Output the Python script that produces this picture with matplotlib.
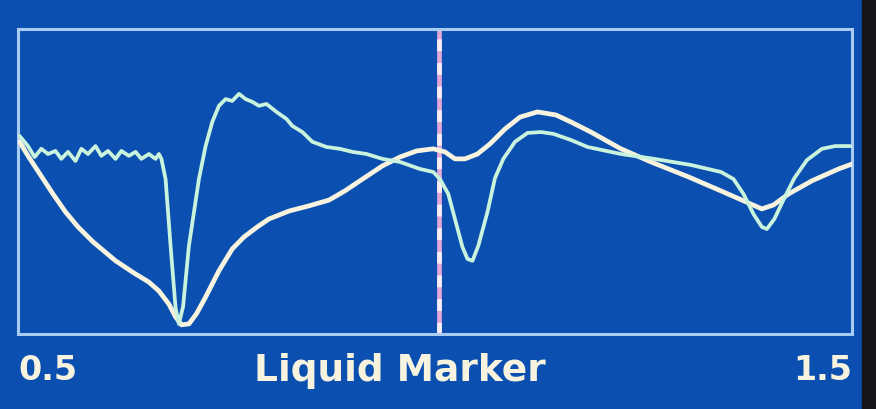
import matplotlib.pyplot as plt
from matplotlib.patches import Rectangle

# Liquid marker trace (noisy, mint coloured)
marker_x = [0.502, 0.512, 0.520, 0.528, 0.536, 0.545, 0.552, 0.560, 0.569, 0.576,
            0.584, 0.593, 0.600, 0.608, 0.617, 0.624, 0.633, 0.641, 0.648, 0.657,
            0.665, 0.669, 0.672, 0.677, 0.683, 0.689, 0.693, 0.698, 0.705, 0.717,
            0.725, 0.733, 0.741, 0.749, 0.757, 0.765, 0.773, 0.781, 0.789, 0.798,
            0.810, 0.822, 0.829, 0.841, 0.853, 0.870, 0.886, 0.901, 0.918, 0.937,
            0.958, 0.982, 0.998, 1.006, 1.016, 1.024, 1.033, 1.039, 1.045, 1.052,
            1.063, 1.072, 1.082, 1.096, 1.111, 1.127, 1.142, 1.163, 1.183, 1.223,
            1.263, 1.307, 1.343, 1.358, 1.370, 1.382, 1.392, 1.398, 1.407, 1.419,
            1.431, 1.446, 1.464, 1.480, 1.498]
marker_y = [64.9, 61.6, 58.0, 60.7, 59.0, 60.0, 57.4, 59.7, 56.7, 60.7,
            59.0, 61.6, 58.4, 60.0, 57.4, 60.0, 58.4, 59.7, 57.4, 59.0,
            57.4, 59.0, 57.4, 50.8, 28.9, 8.5, 3.3, 9.0, 28.9, 50.8,
            61.6, 69.5, 74.8, 77.0, 76.4, 78.7, 77.0, 76.1, 74.8, 75.4,
            72.8, 70.5, 68.2, 66.2, 63.0, 61.3, 60.7, 59.7, 59.0, 57.4,
            56.4, 54.1, 53.1, 50.8, 45.9, 37.7, 28.5, 24.6, 24.0, 28.9,
            40.0, 51.1, 57.4, 63.0, 65.9, 66.2, 65.6, 63.6, 61.3, 59.0,
            57.4, 55.4, 53.1, 50.8, 45.9, 39.3, 35.1, 34.4, 37.7, 44.6,
            51.1, 57.0, 60.7, 61.6, 61.6]

# Reference trace (smooth, cream white)
ref_x = [0.502, 0.512, 0.524, 0.542, 0.557, 0.572, 0.590, 0.617, 0.639, 0.657,
         0.669, 0.681, 0.689, 0.696, 0.705, 0.714, 0.725, 0.741, 0.757, 0.771,
         0.787, 0.801, 0.825, 0.849, 0.873, 0.892, 0.910, 0.937, 0.958, 0.978,
         0.998, 1.012, 1.024, 1.036, 1.051, 1.066, 1.084, 1.102, 1.123, 1.145,
         1.163, 1.187, 1.223, 1.259, 1.304, 1.343, 1.373, 1.392, 1.406, 1.424,
         1.452, 1.484, 1.500]
ref_y = [63.0, 58.4, 53.4, 45.9, 40.0, 35.1, 30.2, 24.0, 20.0, 17.0,
         14.1, 9.8, 5.6, 3.0, 3.3, 6.6, 12.1, 20.7, 27.9, 31.8,
         35.1, 37.7, 40.3, 42.0, 43.9, 46.9, 50.2, 55.1, 58.0, 60.0,
         60.7, 59.7, 57.4, 57.4, 59.0, 62.3, 67.2, 71.1, 72.8, 71.8,
         69.5, 66.2, 60.7, 56.4, 51.5, 46.9, 43.3, 41.0, 42.3, 45.9,
         50.2, 54.1, 55.7]

cursor_x = 1.005
tick_vals = [0.5, 1.5]
tick_labels = ['0.5', '1.5']
x_title = 'Liquid Marker'

bg = '#0b4fb0'
frame = '#a9cdf2'
cream = '#f8f3de'
mint = '#c9f3dc'

fig = plt.figure(figsize=(8.76, 4.10), dpi=100, facecolor=bg)
ax = fig.add_axes([0.0205, 0.183, 0.952, 0.744], facecolor=bg)

ax.plot(ref_x, ref_y, color=cream, lw=3.4, solid_capstyle='round',
        solid_joinstyle='round', zorder=3)
ax.plot(marker_x, marker_y, color=mint, lw=2.7, solid_capstyle='round',
        solid_joinstyle='round', zorder=4)

# dashed cursor: pink under white dashes
ax.axvline(cursor_x, color='#e2a8d8', lw=3.4, zorder=2)
ax.axvline(cursor_x, color='#fbeef8', lw=3.4, ls=(0, (2.5, 2.5)), zorder=2)

ax.set_xlim(0.5, 1.5)
ax.set_ylim(0, 100)
ax.set_yticks([])
ax.set_xticks(tick_vals)
ax.set_xticklabels(tick_labels, fontsize=24, fontweight='bold', color=cream)
labs = ax.get_xticklabels()
labs[0].set_ha('left')
labs[1].set_ha('right')
ax.tick_params(axis='x', length=0, pad=14)

ax.set_xlabel(x_title, fontsize=27, fontweight='bold', color=cream)
ax.xaxis.set_label_coords(0.458, -0.06)

for s in ax.spines.values():
    s.set_color(frame)
    s.set_linewidth(2.2)

# dark bezel on the right edge
fig.patches.append(Rectangle((0.984, 0), 0.016, 1, transform=fig.transFigure,
                             color='#14161c', zorder=0))

fig.savefig('out.png', dpi=100, facecolor=bg)
